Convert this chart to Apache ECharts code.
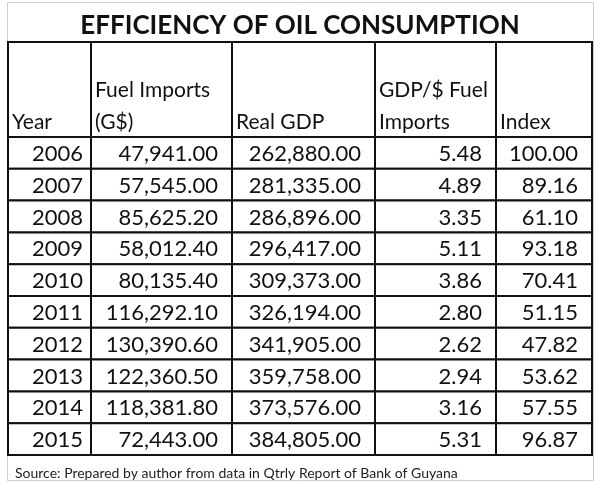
<!DOCTYPE html>
<html><head><meta charset="utf-8">
<script src="https://cdn.jsdelivr.net/npm/echarts@6/dist/echarts.min.js"></script>
<style>html,body{margin:0;padding:0;background:#fff}#c{width:600px;height:486px}</style>
</head><body><div id="c"></div>
<script>
const titleText = 'EFFICIENCY OF OIL CONSUMPTION';
const sourceText = 'Source: Prepared by author from data in Qtrly Report of Bank of Guyana';
const headers = ['Year', 'Fuel Imports\n(G$)', 'Real GDP', 'GDP/$ Fuel\nImports', 'Index'];
const years = [2006, 2007, 2008, 2009, 2010, 2011, 2012, 2013, 2014, 2015];
const fuelImports = [47941.00, 57545.00, 85625.20, 58012.40, 80135.40, 116292.10, 130390.60, 122360.50, 118381.80, 72443.00];
const realGDP = [262880.00, 281335.00, 286896.00, 296417.00, 309373.00, 326194.00, 341905.00, 359758.00, 373576.00, 384805.00];
const gdpPerFuel = [5.48, 4.89, 3.35, 5.11, 3.86, 2.80, 2.62, 2.94, 3.16, 5.31];
const indexVals = [100.00, 89.16, 61.10, 93.18, 70.41, 51.15, 47.82, 53.62, 57.55, 96.87];

// layout (table units)
const colEdges = [0, 83, 224, 367, 488, 584];
const headerH = 95;
const rowH = 31.8;
const rightPad = [8, 14, 14, 14, 14];
const FONT = 'Lato, "Open Sans", sans-serif';

const fmt2 = v => v.toLocaleString('en-US', {minimumFractionDigits: 2, maximumFractionDigits: 2});
const columns = [years.map(String), fuelImports.map(fmt2), realGDP.map(fmt2), gdpPerFuel.map(fmt2), indexVals.map(fmt2)];

const cells = [];
for (let c = 0; c < 5; c++) {
  cells.push([c, -1, headers[c]]);
  for (let r = 0; r < years.length; r++) cells.push([c, r, columns[c][r]]);
}
const totalH = headerH + rowH * years.length;

const chart = echarts.init(document.getElementById('c'), null, {renderer: 'canvas'});
chart.setOption({
  animation: false,
  backgroundColor: '#fff',
  title: [
    {text: titleText, left: 'center', top: 8, textStyle: {fontFamily: FONT, fontWeight: 'bold', fontSize: 26, color: '#111'}},
    {text: sourceText, left: 10, top: 461, textStyle: {fontFamily: FONT, fontWeight: 'normal', fontSize: 14, color: '#222'}}
  ],
  graphic: [
    {type: 'rect', shape: {x: 7.5, y: 2.5, width: 586, height: 478}, style: {fill: 'none', stroke: '#cfcfcf', lineWidth: 1}, z: -1}
  ],
  grid: {left: 8, top: 42, width: 584, height: totalH},
  xAxis: {type: 'value', min: 0, max: colEdges[colEdges.length - 1], show: false},
  yAxis: {type: 'value', min: 0, max: totalH, inverse: true, show: false},
  series: [{
    type: 'custom',
    coordinateSystem: 'cartesian2d',
    data: cells,
    encode: {x: 0, y: 1},
    renderItem: function (params, api) {
      const c = api.value(0), r = api.value(1);
      const text = cells[params.dataIndex][2];
      const y0 = r < 0 ? 0 : headerH + r * rowH;
      const y1 = r < 0 ? headerH : y0 + rowH;
      const p0 = api.coord([colEdges[c], y0]);
      const p1 = api.coord([colEdges[c + 1], y1]);
      const children = [{
        type: 'rect',
        shape: {x: p0[0], y: p0[1], width: p1[0] - p0[0], height: p1[1] - p0[1]},
        style: {fill: '#fff', stroke: '#111', lineWidth: 2}
      }];
      if (r < 0) {
        children.push({
          type: 'text', z2: 10,
          style: {text: text, x: p0[0] + 4, y: p1[1] + 1, align: 'left', verticalAlign: 'bottom',
            font: '21px ' + FONT, lineHeight: 32, fill: '#111'}
        });
      } else {
        children.push({
          type: 'text', z2: 10,
          style: {text: text, x: p1[0] - rightPad[c], y: (p0[1] + p1[1]) / 2 + 1, align: 'right', verticalAlign: 'middle',
            font: '22px ' + FONT, fill: '#111'}
        });
      }
      return {type: 'group', children: children};
    }
  }]
});
</script></body></html>
